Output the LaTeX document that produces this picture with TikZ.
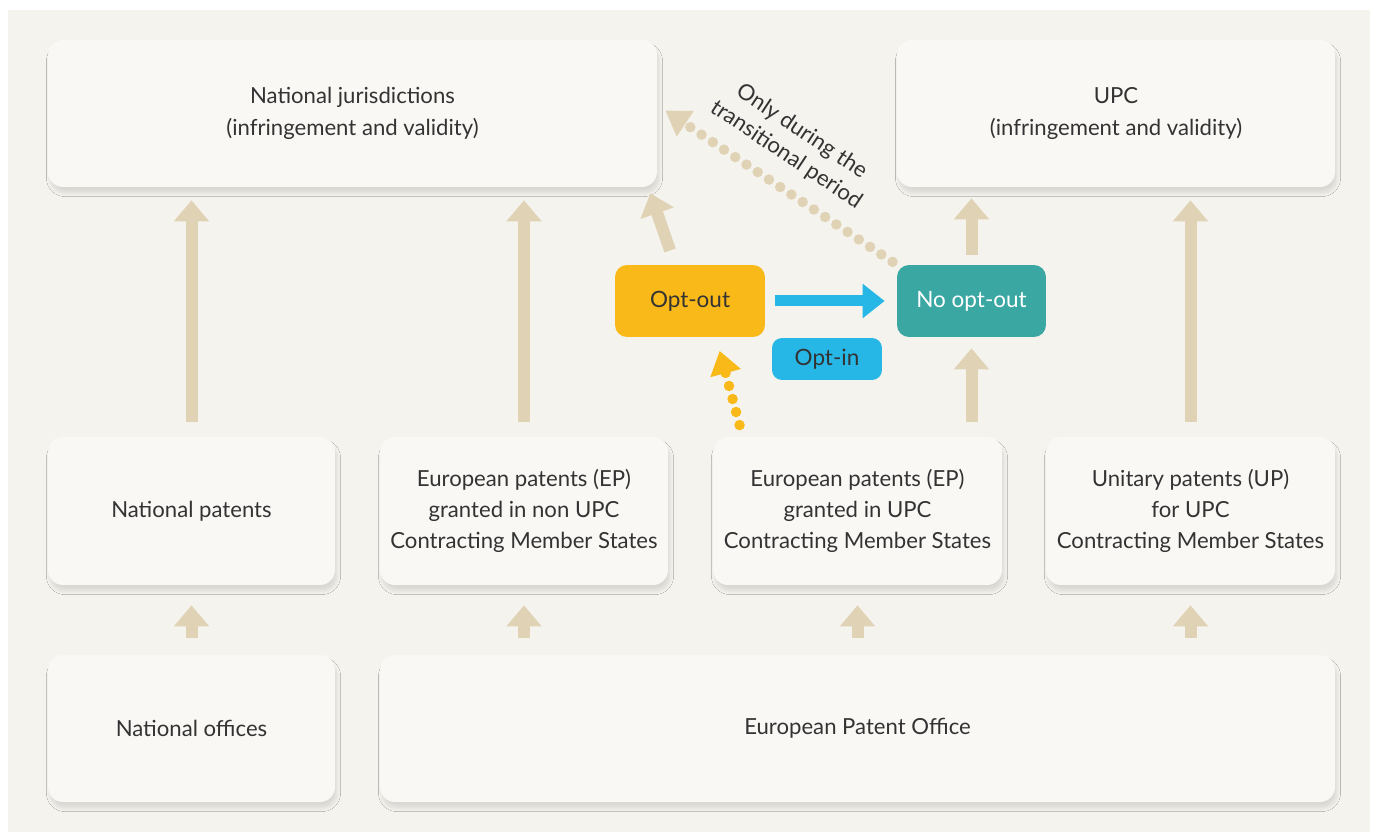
\documentclass[tikz,border=0pt]{standalone}
\usepackage{fontspec}
\setmainfont{Lato}
\usetikzlibrary{arrows.meta, shadows.blur, positioning}

\definecolor{paper}{HTML}{F5F3EE}
\definecolor{cardfill}{HTML}{F9F8F5}
\definecolor{ink}{HTML}{333333}
\definecolor{tan}{HTML}{E0D3B5}
\definecolor{optorange}{HTML}{F9B918}
\definecolor{optteal}{HTML}{3BA7A3}
\definecolor{optblue}{HTML}{27B7E7}

\begin{document}
\begin{tikzpicture}[x=0.02cm, y=-0.02cm,
  card/.style={rounded corners=0.3cm, fill=cardfill, text=ink, align=center,
    font=\fontsize{12.6}{17.8}\selectfont,
    blur shadow={shadow xshift=0.04cm, shadow yshift=-0.12cm, shadow opacity=11, shadow blur steps=10}},
  tag/.style={rounded corners=0.24cm, align=center, font=\fontsize{12.8}{14}\selectfont},
  bigarrow/.style={draw=tan, line width=0.24cm, -{Triangle[width=0.68cm,length=0.42cm]}},
  dotline/.style={line width=0.21cm, line cap=round, dash pattern=on 0pt off 0.27cm}]
  \useasboundingbox (0,0) rectangle (1373,834);
  % Canvas
  \fill[white] (0,0) rectangle (1373,834);
  \fill[paper] (8,10) rectangle (1370,832);

  % Courts (top row)
  \node[card, minimum width=12.18cm, minimum height=2.94cm] (nj) at (352.5,113.5) {National jurisdictions\\(infringement and validity)};
  \node[card, minimum width=8.76cm, minimum height=2.94cm] (upc) at (1116,113.5) {UPC\\(infringement and validity)};

  % Patents (middle row)
  \node[card, minimum width=5.74cm, minimum height=2.96cm] (np) at (191.5,511) {National patents};
  \node[card, minimum width=5.76cm, minimum height=2.96cm] (epn) at (524,511) {European patents (EP)\\granted in non UPC\\Contracting Member States};
  \node[card, minimum width=5.78cm, minimum height=2.96cm] (epu) at (857.5,511) {European patents (EP)\\granted in UPC\\Contracting Member States};
  \node[card, minimum width=5.78cm, minimum height=2.96cm] (up) at (1190.5,511) {Unitary patents (UP)\\for UPC\\Contracting Member States};

  % Offices (bottom row)
  \node[card, minimum width=5.74cm, minimum height=2.94cm] (no) at (191.5,728.5) {National offices};
  \node[card, minimum width=19.1cm, minimum height=2.94cm] (epo) at (857.5,728.5) {European Patent Office};

  % Opt-out choice
  \node[tag, fill=optorange, text=ink, minimum width=3cm, minimum height=1.44cm] (optout) at (690,301) {Opt-out};
  \node[tag, fill=optteal, text=white, minimum width=2.98cm, minimum height=1.44cm] (nooptout) at (971.5,301) {No opt-out};
  \node[tag, fill=optblue, text=ink, rounded corners=0.2cm, minimum width=2.2cm, minimum height=0.84cm] (optin) at (827,359) {Opt-in};

  % Offices grant patents
  \draw[bigarrow, shorten <=0.34cm, shorten >=0.4cm] (no.north) -- (np.south);
  \draw[bigarrow, shorten <=0.34cm, shorten >=0.4cm] (epo.north -| epn.south) -- (epn.south);
  \draw[bigarrow, shorten <=0.34cm, shorten >=0.4cm] (epo.north -| epu.south) -- (epu.south);
  \draw[bigarrow, shorten <=0.34cm, shorten >=0.4cm] (epo.north -| up.south) -- (up.south);

  % Patents go to courts
  \draw[bigarrow, shorten <=0.3cm, shorten >=0.26cm] (np.north) -- (np.north |- nj.south);
  \draw[bigarrow, shorten <=0.3cm, shorten >=0.26cm] (epn.north) -- (epn.north |- nj.south);
  \draw[bigarrow, shorten <=0.3cm, shorten >=0.26cm] (up.north) -- (up.north |- upc.south);
  \draw[bigarrow, shorten <=0.3cm, shorten >=0.22cm] (epu.north -| nooptout.south) -- (nooptout.south);
  \draw[bigarrow, shorten <=0.2cm, shorten >=0.22cm] (nooptout.north) -- (nooptout.north |- upc.south);
  \draw[bigarrow, shorten <=0.3cm] ([xshift=-0.3cm]optout.north) -- ([xshift=-0.14cm,yshift=-0.12cm]nj.south east);

  % Opt-in
  \draw[draw=optblue, line width=0.22cm, -{Triangle[width=0.66cm,length=0.44cm]}, shorten <=0.2cm, shorten >=0.24cm] (optout.east) -- (nooptout.west);

  % Dotted links
  \draw[dotline, draw=optorange, -{Triangle[width=0.6cm,length=0.46cm]}, shorten <=0.24cm, shorten >=0.28cm]
    ([xshift=0.6cm]epu.north west) -- ([xshift=0.52cm]optout.south);
  \draw[dotline, draw=tan, -{Triangle[width=0.58cm,length=0.48cm]}, shorten <=0.1cm]
    (nooptout.north west) -- ([xshift=0.16cm,yshift=0.06cm]nj.east)
    node[pos=0.55, sloped, above=5pt, text=ink, align=center, font=\fontsize{12.6}{16}\selectfont] (note) {Only during the\\transitional period};
\end{tikzpicture}
\end{document}
